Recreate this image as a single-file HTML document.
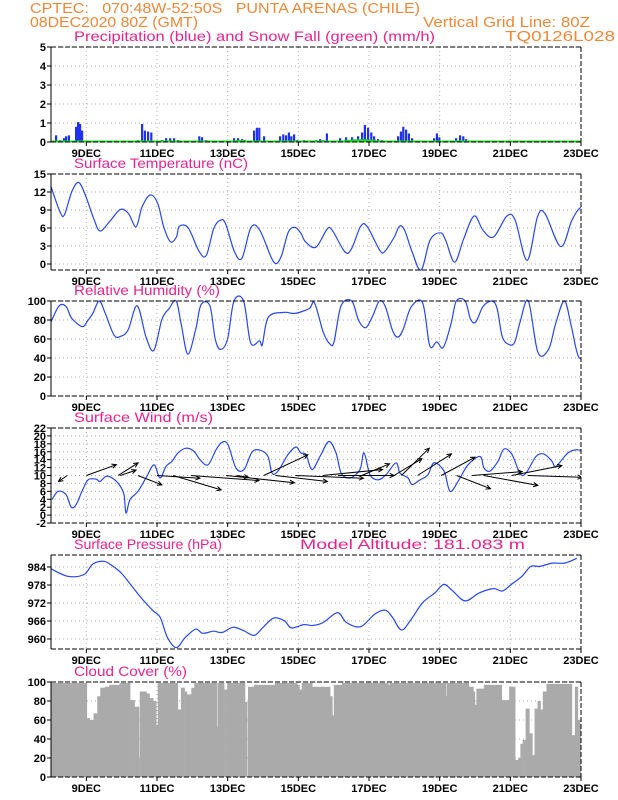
<!DOCTYPE html>
<html><head><meta charset="utf-8">
<style>
html,body{margin:0;padding:0;background:#fff;}
svg{display:block;font-family:"Liberation Sans",sans-serif;}
.hd{fill:#f0883a;font-size:15px;white-space:pre;}
.tt{fill:#e8248c;font-size:14px;}
.yl{font-size:11px;font-weight:bold;fill:#000;}
.dl{font-size:11px;font-weight:bold;fill:#000;}
</style></head>
<body>
<svg id="chart" width="618" height="800" viewBox="0 0 618 800">
<defs><clipPath id="plotclip"><rect x="51" y="0" width="530" height="800"/></clipPath></defs>
<text class="hd" x="30" y="13" textLength="390" lengthAdjust="spacingAndGlyphs" xml:space="preserve">CPTEC:   070:48W-52:50S   PUNTA ARENAS (CHILE)</text>
<text class="hd" x="30" y="27" textLength="168" lengthAdjust="spacingAndGlyphs">08DEC2020 80Z (GMT)</text>
<text class="hd" x="423" y="27" textLength="167" lengthAdjust="spacingAndGlyphs">Vertical Grid Line: 80Z</text>
<text class="hd" x="505" y="41" textLength="110" lengthAdjust="spacingAndGlyphs">TQ0126L028</text>
<text class="tt" x="74" y="41" textLength="361" lengthAdjust="spacingAndGlyphs">Precipitation (blue) and Snow Fall (green) (mm/h)</text>
<text class="tt" x="74" y="168" textLength="174" lengthAdjust="spacingAndGlyphs">Surface Temperature (nC)</text>
<text class="tt" x="74" y="295" textLength="146" lengthAdjust="spacingAndGlyphs">Relative Humidity (%)</text>
<text class="tt" x="74" y="422" textLength="139" lengthAdjust="spacingAndGlyphs">Surface Wind (m/s)</text>
<text class="tt" x="74" y="549" textLength="148" lengthAdjust="spacingAndGlyphs">Surface Pressure (hPa)</text>
<text class="tt" x="300" y="549" textLength="225" lengthAdjust="spacingAndGlyphs">Model Altitude: 181.083 m</text>
<text class="tt" x="74" y="676" textLength="113" lengthAdjust="spacingAndGlyphs">Cloud Cover (%)</text>
<g id="layer"></g>
</svg>
<script>
const dayLabels=["9DEC","11DEC","13DEC","15DEC","17DEC","19DEC","21DEC","23DEC"];
const dayHours=[24,72,120,168,216,264,312,360];
const tempHour=[0,6,9,14,18.5,23,29,33,40,46.5,52,57,61,66.5,71.5,75.5,80,84,86,92,99,104,109,113.5,117,123,128,134,140,149,154,159,163.5,167.5,170.5,177.5,185,188.5,197,201.5,207.5,212,220.5,224,230,233.5,237,242,248,254,261,264.5,270.5,276.5,283.5,289.5,296.5,305.5,311,319,326,331,341.5,349,355,360];
const tempVal=[12.9,8.7,8.2,12.1,13.6,11.5,7.3,5.5,7.3,9.1,8.4,6.2,9.5,11.5,10.1,6.2,3.7,4.5,6.3,6.0,2.2,1.4,5.9,7.3,6.7,2.0,1.0,6.1,5.6,0.4,1.1,5.3,6.1,5.1,3.7,2.8,5.8,5.6,2.0,2.6,6.3,6.2,2.2,2.2,4.5,6.3,5.6,2.0,-1.0,4.0,5.2,3.9,0.3,4.2,8.0,5.6,4.5,8.0,7.3,0.6,7.9,8.4,2.9,7.3,9.4,8.4];
const rhX=[32,55,75,90,120,135,150,168,185,210,230,250,275,300,322,345,365,385,400,418,440,455,480,495,510,530,548,575,595,620,628,645,690,720,760,775,800,818,830,850,880,900,920,940,958,975,995,1010,1025,1048,1080,1100,1120,1138,1160,1175,1200,1215,1230,1250,1275,1290,1305,1325,1340,1355,1378,1405,1435,1455,1480,1500,1520,1545];
const rhVal=[78,95,94,82,73,79,87,100,87,64,63,70,95,62,48,81,92,100,74,44,70,96,95,60,49,60,100,100,56,58,54,83,88,87,92,98,67,55,57,95,100,79,72,85,100,94,69,62,70,94,98,53,57,51,76,100,100,81,78,94,100,92,62,54,57,78,100,46,49,76,100,72,41,43];
const windX=[130,145,165,178,190,205,220,240,250,265,280,298,310,315,325,345,365,385,400,415,430,445,465,485,500,520,540,555,570,590,610,630,650,670,680,695,720,740,752,765,780,800,822,840,853,875,900,910,925,945,965,990,1000,1020,1030,1050,1070,1085,1110,1125,1145,1170,1200,1210,1225,1245,1260,1280,1300,1315,1340,1360,1380,1390,1420,1445,1465,1475];
const windVal=[3.9,6.0,5.2,2.0,2.6,6.0,8.9,9.1,8.5,9.8,9.4,7.7,5.2,0.5,3.9,6.0,9.4,12.7,9.4,12.3,13.6,15.7,16.9,16.1,14.0,12.7,16.5,18.4,17.8,11.9,11.5,15.9,16.4,14.8,10.6,11.1,15.3,17.2,15.7,15.3,11.5,14.8,18.6,15.7,10.6,9.4,11.5,15.7,10.2,8.9,10.2,13.2,10.6,9.4,7.7,8.9,10.2,13.2,11.1,6.0,8.5,12.7,14.8,11.9,11.1,13.6,16.7,15.3,10.5,10.6,14.8,15.4,13.6,12.3,15.7,16.5,15.3,13.6];
const arrowHour=[11,24,45.5,47,59,72,83,95,119,126,144.5,152.5,166,184.5,195,211,233,238,249,265,275.5,286,294,313,324];
const arrowU=[-2.9,10,6.7,5.3,8,14.3,16,22.7,22.7,4,14.7,17.3,22.7,20,18.7,9.3,9.3,9.3,11.3,11.3,11.3,16.7,18,16.7,18];
const arrowV=[-2,3.6,4.2,1.8,-3.1,-0.9,-4.8,-1.7,-2.4,-0.6,6.9,-2,-0.9,2,0,3.9,5.6,9.1,7.2,6.1,-4.4,1.3,-3.3,3.3,-0.6];
const presX=[32,80,125,150,180,200,230,260,290,320,340,360,385,410,440,460,490,515,545,575,605,630,660,690,710,745,770,800,840,865,905,945,975,995,1020,1045,1080,1115,1140,1165,1200,1240,1280,1305,1330,1360,1385,1410,1445,1480,1515];
const presVal=[983.4,980.9,981.5,985,985.9,984.8,982,977.6,973.2,969.4,967.2,960.6,957.1,960.4,963.3,961.9,962.6,962.2,963.9,962.8,961.2,963.9,967,966.1,963.7,964.8,964.5,965.5,968.8,965.5,964.1,968.3,969.6,967.2,963,966.1,972.1,975.4,978.2,976,972.7,975.4,976.8,976,978.2,980.9,984.2,984.2,985.3,985.3,986.9];
const precipX=[140,150,160,165,172,180,190,195,200,205,345,355,362,370,378,405,415,425,435,445,498,505,515,560,585,595,605,612,635,642,648,660,700,708,715,722,728,735,742,760,790,800,808,817,850,865,880,895,905,912,920,928,935,945,955,995,1002,1008,1015,1022,1030,1085,1092,1098,1140,1150,1158,1165,1410];
const precipVal=[0.35,0.1,0.2,0.3,0.35,0.05,0.8,1.05,0.95,0.6,0.1,0.95,0.6,0.55,0.5,0.1,0.2,0.2,0.2,0.1,0.3,0.25,0.1,0.05,0.2,0.2,0.15,0.1,0.6,0.75,0.75,0.3,0.3,0.4,0.35,0.5,0.3,0.4,0.1,0.1,0.1,0.15,0.1,0.45,0.2,0.25,0.25,0.3,0.5,0.9,0.75,0.5,0.3,0.15,0.1,0.3,0.55,0.8,0.65,0.45,0.2,0.2,0.45,0.25,0.2,0.35,0.3,0.15,0.05];
const snowX=[590,600,610,850,870,890,910,930,950,1005,1015,1025,1140,1150];
const snowVal=[0.08,0.1,0.08,0.08,0.12,0.14,0.15,0.12,0.08,0.06,0.08,0.06,0.06,0.08];
const cloudHour=[0,24,26,28.5,31,33,36,39,46,53,56,59,59.5,61,64,66,68.5,70.5,71.5,85,87,89.5,91,94,96,111,111.5,116,118,130,131.5,132,136,150,165,166.5,168,175,187,188.5,189.5,195,226,227,264,264.5,265,280,283,284,285,290,302,307,311,313,314.5,316,318,320.5,322.5,324,326,328,329.5,332,349,351,353,354.5,356,357.5,359];
const cloudVal=[99,62,60,67,85,94,95,97,99,81,74,19,90,90,88,83,80,55,99,71,94,90,87,94,99,53,99,92,99,79,0,95,97,99,97,92,99,95,85,65,97,99,97,99,99,85,99,95,90,76,93,97,81,95,18,20,35,39,72,46,23,72,80,71,90,98,44,95,60,53,85,84,97];

const NS="http://www.w3.org/2000/svg";
const L=document.getElementById('layer');
const X0=51,X1=581;
function xH(h){return X0+h*(X1-X0)/360;}
function xZ(h){return Math.min(X0+h/0.2376/2.82,X1+10);}
function xP(zx){return 51+(zx-32)/2.82;}
function xW(zx){return 52+(zx-130)/2.5;}
function mk(tag,attrs,parent){const e=document.createElementNS(NS,tag);for(const k in attrs)e.setAttribute(k,attrs[k]);(parent||L).appendChild(e);return e;}
function smooth(pts){let d="M"+pts[0][0].toFixed(1)+","+pts[0][1].toFixed(1);
 for(let i=0;i<pts.length-1;i++){const p0=pts[Math.max(0,i-1)],p1=pts[i],p2=pts[i+1],p3=pts[Math.min(pts.length-1,i+2)];
 const c1=[p1[0]+(p2[0]-p0[0])/6,p1[1]+(p2[1]-p0[1])/6],c2=[p2[0]-(p3[0]-p1[0])/6,p2[1]-(p3[1]-p1[1])/6];
 d+=" C"+c1[0].toFixed(1)+","+c1[1].toFixed(1)+" "+c2[0].toFixed(1)+","+c2[1].toFixed(1)+" "+p2[0].toFixed(1)+","+p2[1].toFixed(1);}return d;}

function panel(name,top,bot,vmin,vmax,ticks,fs){
 const g=mk('g',{});
 
 
 const y=v=>bot-(v-vmin)/(vmax-vmin)*(bot-top);
 ticks.forEach(t=>{const yy=y(t);
  const gl=mk('line',{x1:X0,x2:X1,y1:yy,y2:yy,stroke:'#b0b0b0','stroke-dasharray':'1,3'},g);
  
  
  mk('line',{x1:X0-4,x2:X0,y1:yy,y2:yy,stroke:'#000'},g);
  const tx=mk('text',{x:X0-5,y:yy+4,'text-anchor':'end',class:'yl','font-size':fs||11},g);tx.textContent=t;
  
  });
 dayHours.forEach((h,i)=>{const xx=xH(h);
  if(i<dayHours.length-1){const vl=mk('line',{x1:xx,x2:xx,y1:top,y2:bot,stroke:'#b0b0b0','stroke-dasharray':'1,3'},g);
   
   }
  mk('line',{x1:xx,x2:xx,y1:bot,y2:bot+4,stroke:'#000'},g);
  const tx=mk('text',{x:xx,y:bot+15,'text-anchor':'middle',class:'dl'},g);tx.textContent=dayLabels[i];
  
  });
 const plot=mk('g',{'clip-path':'url(#plotclip)'},g);
 return {g:plot,y,top,bot};
}
function frame(p,name){
 const f=mk('g',{});
 
 
 mk('line',{x1:X0,x2:X1,y1:p.top,y2:p.top,stroke:'#000','stroke-dasharray':'5,2'},f);
 mk('line',{x1:X0,x2:X1,y1:p.bot,y2:p.bot,stroke:'#000','stroke-dasharray':'5,2'},f);
 mk('line',{x1:X1,x2:X1,y1:p.top,y2:p.bot,stroke:'#000','stroke-dasharray':'5,2'},f);
 mk('line',{x1:X0,x2:X0,y1:p.top,y2:p.bot,stroke:'#000'},f);
}
function line(p,xs,vals,name,xf){
 const pts=xs.map((x,i)=>[xf(x),p.y(vals[i])]);
 const e=mk('path',{d:smooth(pts),fill:'none',stroke:'#2846f0','stroke-width':1.2},p.g);
 
 
}

const p1=panel('precip',47,142,0,5,[0,1,2,3,4,5]);
precipX.forEach((zx,i)=>{const x=xW(zx),yy=p1.y(precipVal[i]);
 const r=mk('rect',{x:x-1,y:yy,width:2.2,height:p1.bot-yy,fill:'#2030f0'},p1.g);
 
 });
snowX.forEach((zx,i)=>{const x=xW(zx),yy=p1.y(snowVal[i]);
 const r=mk('rect',{x:x-4,y:yy,width:8,height:p1.bot-yy,fill:'#20d020'},p1.g);
 
 });
const sb=mk('line',{x1:X0,x2:X1,y1:p1.bot-0.5,y2:p1.bot-0.5,stroke:'#20d020','stroke-width':2},p1.g);


frame(p1,'precip');

const p2=panel('temp',174,270,-1,15,[0,3,6,9,12,15]);
line(p2,tempHour,tempVal,'temperature-line',xZ);
frame(p2,'temp');

const p3=panel('rh',301,396,0,100,[0,20,40,60,80,100]);
line(p3,rhX,rhVal,'humidity-line',xP);
frame(p3,'rh');

const p4=panel('wind',428,523,-2,22,[-2,0,2,4,6,8,10,12,14,16,18,20,22],10);
line(p4,windX,windVal,'wind-speed-line',xW);
arrowHour.forEach((h,i)=>{
 const x0=xH(h),y0=p4.y(10),x1=x0+arrowU[i]*3,y1=y0-arrowV[i]*3;
 const ag=mk('g',{},p4.g);
 
 
 mk('line',{x1:x0,y1:y0,x2:x1,y2:y1,stroke:'#000','stroke-width':1},ag);
 const a=Math.atan2(y1-y0,x1-x0),s=5;
 mk('path',{d:`M${x1-s*Math.cos(a-0.45)},${y1-s*Math.sin(a-0.45)} L${x1},${y1} L${x1-s*Math.cos(a+0.45)},${y1-s*Math.sin(a+0.45)}`,fill:'none',stroke:'#000'},ag);
});
frame(p4,'wind');

const p5=panel('pressure',555,649,956.667,988,[960,966,972,978,984]);
line(p5,presX,presVal,'pressure-line',xP);
frame(p5,'pressure');

const p6=panel('cloud',682,777,0,100,[0,20,40,60,80,100]);
cloudHour.forEach((h,i)=>{
 const h2=i<cloudHour.length-1?cloudHour[i+1]:360;
 const x=xZ(h),w=xZ(h2)-x,yy=p6.y(cloudVal[i]);
 const r=mk('rect',{x:x,y:yy,width:Math.max(w+0.3,0.5),height:p6.bot-yy,fill:'#aaaaaa'},p6.g);
 
 });
frame(p6,'cloud');
</script>
</body></html>
